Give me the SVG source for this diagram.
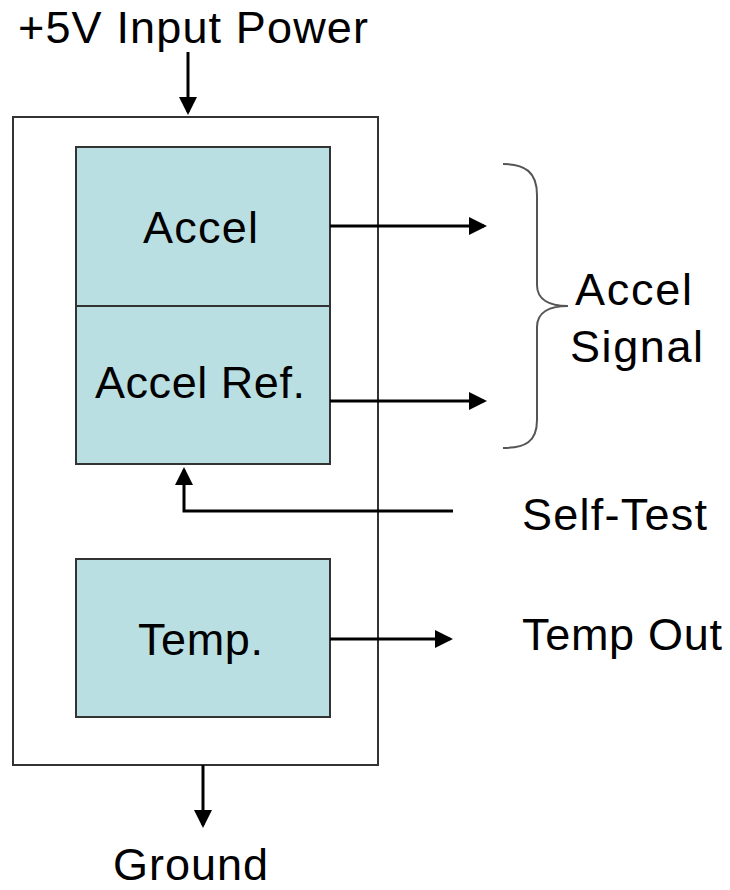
<svg xmlns="http://www.w3.org/2000/svg" width="730" height="890" viewBox="0 0 730 890">
<style>
text{font-family:"Liberation Sans",Arial,sans-serif;font-size:45px;fill:#000}
.blk{fill:#B9DFE2;stroke:#333;stroke-width:2}
.c{fill:none;stroke:#000;stroke-width:3}
</style>
<defs>
<marker id="ah" markerWidth="6" markerHeight="6" refX="5" refY="3" orient="auto" markerUnits="strokeWidth">
<path d="M0,0 L6,3 L0,6 z" fill="#000"/>
</marker>
</defs>
<rect width="730" height="890" fill="#fff"/>
<g id="outer"><rect x="13" y="117" width="365" height="648" fill="#fff" stroke="#333" stroke-width="2"/></g>
<g id="accel"><rect class="blk" x="76" y="147" width="254" height="159"/><text x="143" y="243" textLength="115" lengthAdjust="spacing">Accel</text></g>
<g id="accelref"><rect class="blk" x="76" y="306" width="254" height="158"/><text x="95" y="398" textLength="210" lengthAdjust="spacing">Accel Ref.</text></g>
<g id="temp"><rect class="blk" x="76" y="559" width="254" height="158"/><text x="138" y="655" textLength="125" lengthAdjust="spacing">Temp.</text></g>
<g id="power"><text x="18" y="43" textLength="350" lengthAdjust="spacing">+5V Input Power</text></g>
<g id="ground"><text x="113" y="880" textLength="155" lengthAdjust="spacing">Ground</text></g>
<g id="accelsignal"><text x="575" y="305" textLength="117" lengthAdjust="spacing">Accel</text><text x="570" y="362" textLength="133" lengthAdjust="spacing">Signal</text>
<path d="M503,164 C525,164 537,172 537,195 L537,285 C537,300 550,306 568,306 C550,306 537,312 537,327 L537,420 C537,442 525,448 503,448" fill="none" stroke="#555" stroke-width="2"/></g>
<g id="selftest"><text x="522" y="530" textLength="185" lengthAdjust="spacing">Self-Test</text></g>
<g id="tempout"><text x="522" y="650" textLength="200" lengthAdjust="spacing">Temp Out</text></g>
<g id="connectors">
<line class="c" x1="188" y1="52" x2="188" y2="112" marker-end="url(#ah)"/>
<line class="c" x1="330" y1="226" x2="484" y2="226" marker-end="url(#ah)"/>
<line class="c" x1="330" y1="401" x2="484" y2="401" marker-end="url(#ah)"/>
<polyline class="c" points="453,511 184,511 184,470" marker-end="url(#ah)"/>
<line class="c" x1="330" y1="639" x2="450" y2="639" marker-end="url(#ah)"/>
<line class="c" x1="203" y1="765" x2="203" y2="825" marker-end="url(#ah)"/>
</g>
</svg>
